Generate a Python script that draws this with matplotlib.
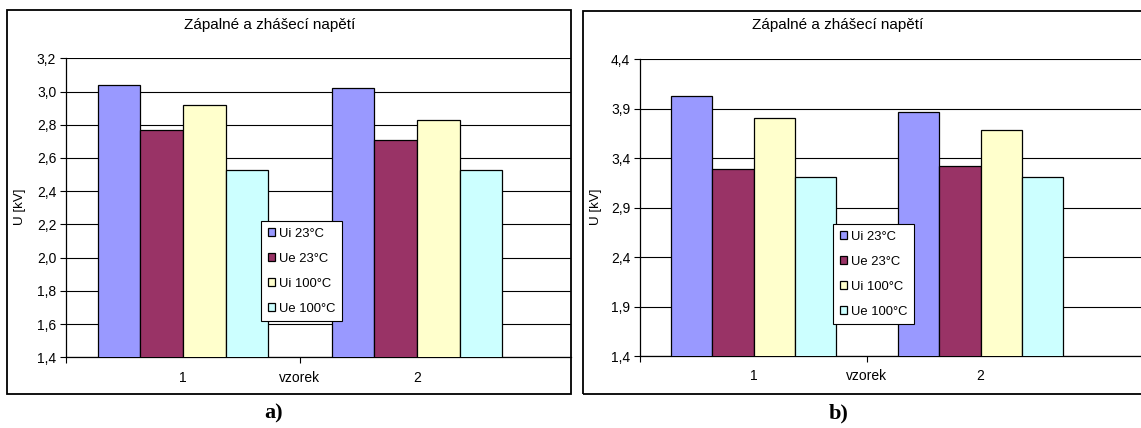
import numpy as np
import matplotlib.pyplot as plt
from matplotlib.patches import Rectangle

plt.rcParams['font.family'] = ['Liberation Sans', 'DejaVu Sans']

W, H = 1141, 428

samples = ['1', '2']
series = ['Ui 23°C', 'Ue 23°C', 'Ui 100°C', 'Ue 100°C']
colors = ['#9999FF', '#993366', '#FFFFCC', '#CCFFFF']

# a) values [kV]
vals_a = [[3.04, 3.02],   # Ui 23
          [2.77, 2.71],   # Ue 23
          [2.92, 2.83],   # Ui 100
          [2.53, 2.53]]   # Ue 100
# b) values [kV]
vals_b = [[4.03, 3.87],
          [3.29, 3.32],
          [3.81, 3.69],
          [3.21, 3.21]]

title = 'Zápalné a zhášecí napětí'

fig = plt.figure(figsize=(W / 100, H / 100), dpi=100)


def px_axes(l, r, t, b):
    return fig.add_axes([l / W, 1 - b / H, (r - l) / W, (b - t) / H])


def frame(l, r, t, b):
    fig.patches.append(Rectangle((l / W, 1 - b / H), (r - l) / W, (b - t) / H,
                                 transform=fig.transFigure, fill=False,
                                 edgecolor='black', lw=1.3, zorder=0))


def draw(ax, vals, ylim, step, xmax, ylabel_x, title_x, legend_pos):
    x = np.arange(len(samples))
    w = 0.182
    for i, (name, c) in enumerate(zip(series, colors)):
        ax.bar(x + (i - 1.5) * w, vals[i], w, color=c, edgecolor='black',
               lw=0.9, label=name, zorder=3)
    ax.set_xlim(-0.5, xmax)
    ax.set_ylim(*ylim)
    yt = np.arange(ylim[0], ylim[1] + 1e-9, step)
    ax.set_yticks(yt)
    ax.set_yticklabels([f'{v:.1f}'.replace('.', ',') for v in yt], fontsize=10)
    ax.yaxis.grid(True, color='black', lw=0.8, zorder=0)
    ax.set_xticks([-0.5, 0.5])
    ax.set_xticklabels([])
    ax.tick_params(axis='both', direction='out', length=4, width=0.8, pad=3)
    for i, s in enumerate(samples):
        ax.text(x[i], -0.045, s, transform=ax.get_xaxis_transform(),
                ha='center', va='top', fontsize=10)
    ax.text(0.5, -0.045, 'vzorek', transform=ax.get_xaxis_transform(),
            ha='center', va='top', fontsize=10)
    for sp in ['top', 'right']:
        ax.spines[sp].set_visible(False)
    for sp in ['left', 'bottom']:
        ax.spines[sp].set_linewidth(0.9)
    fig.text(ylabel_x / W, 1 - 207 / H, 'U [kV]', rotation=90,
             ha='center', va='center', fontsize=9.6)
    fig.text(title_x / W, 1 - 25 / H, title, ha='center', va='center',
             fontsize=11)
    leg = ax.legend(loc='upper left', bbox_to_anchor=legend_pos,
                    bbox_transform=fig.transFigure, fontsize=9.4,
                    fancybox=False, framealpha=1, edgecolor='black',
                    handlelength=0.6, handleheight=0.6, handletextpad=0.3,
                    labelspacing=1.0, borderpad=0.5, borderaxespad=0)
    leg.get_frame().set_linewidth(0.8)
    leg.set_zorder(5)


frame(7, 571, 10, 394)
frame(583, 1150, 11, 394)

ax_a = px_axes(66, 571, 58.3, 357.3)
draw(ax_a, vals_a, (1.4, 3.2), 0.2, 1.658, 20, 270, (261 / W, 1 - 221 / H))

ax_b = px_axes(640, 1141, 59.3, 356)
draw(ax_b, vals_b, (1.4, 4.4), 0.5, 1.707, 596, 838, (833 / W, 1 - 224 / H))

fig.text(274 / W, 1 - 413 / H, 'a)', ha='center', va='center', fontsize=16,
         fontweight='bold', family='Liberation Serif')
fig.text(839 / W, 1 - 413 / H, 'b)', ha='center', va='center', fontsize=16,
         fontweight='bold', family='Liberation Serif')

fig.savefig('out.png', dpi=100)
